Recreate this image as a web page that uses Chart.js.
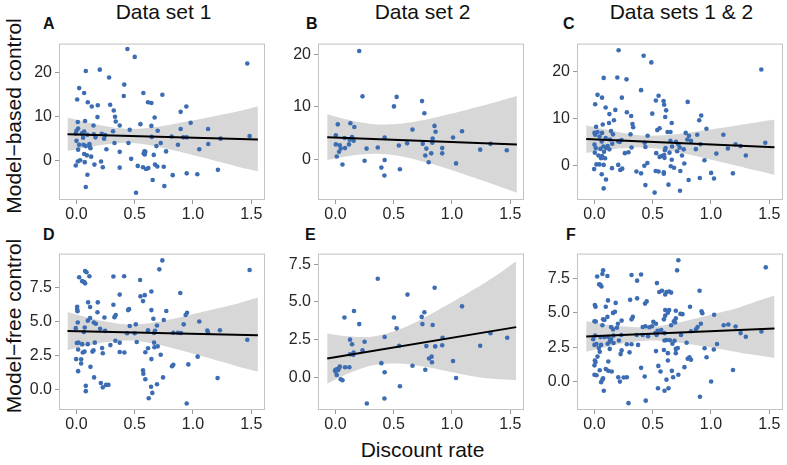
<!DOCTYPE html>
<html>
<head>
<meta charset="utf-8">
<script src="https://cdn.jsdelivr.net/npm/chart.js@4.4.1/dist/chart.umd.min.js"></script>
<style>
  body { margin: 0; background: #fff; }
  #wrap { position: relative; width: 787px; height: 465px; font-family: "Liberation Sans", Arial, sans-serif; color: #111; }
  canvas { position: absolute; }
  .txt { position: absolute; white-space: nowrap; line-height: 1; }
  .col { font-size: 21px; text-align: center; width: 209px; top: 1px; }
  .lab { font-size: 16px; font-weight: bold; }
  .ytitle { font-size: 21px; transform: translate(-50%, -50%) rotate(-90deg); }
</style>
</head>
<body>
<div id="wrap">
  <div class="txt col" style="left:59px">Data set 1</div>
  <div class="txt col" style="left:318px">Data set 2</div>
  <div class="txt col" style="left:577px">Data sets 1 &amp; 2</div>
  <div class="txt lab" style="left:43px;top:16px">A</div>
  <div class="txt lab" style="left:306px;top:16px">B</div>
  <div class="txt lab" style="left:563px;top:16px">C</div>
  <div class="txt lab" style="left:43px;top:227px">D</div>
  <div class="txt lab" style="left:305px;top:227px">E</div>
  <div class="txt lab" style="left:566px;top:227px">F</div>
  <div class="txt ytitle" style="left:13px;top:116px">Model−based control</div>
  <div class="txt ytitle" style="left:13px;top:326px">Model−free control</div>
  <div class="txt" style="left:318px;top:439px;width:209px;text-align:center;font-size:21px">Discount rate</div>
</div>
<script>
// discount rate on x, control measure on y
const xTicks = [0, 0.5, 1, 1.5];
const mbTicks = [0, 10, 20];
const mfTicks = [0, 2.5, 5, 7.5];

// A: data set 1, model-based
const aX = [0.437,0.5,1.466,0.08,0.2,0.28,0.023,0.41,0.066,0.406,0.574,0.737,0.006,0.097,0.614,0.643,0.131,0.183,0.289,0.32,0.943,0.894,0.18,0.331,0.671,0.337,0.011,0.074,0.146,0.371,0.549,0.643,0.98,0.014,0,0.066,0.314,0.457,0.697,0.894,1.129,-0.006,0.046,0.094,0.149,0.217,0.246,0.057,0.163,0.237,0.646,0.817,0.917,0.946,1.237,1.486,0,0.023,0.06,0.111,0.114,0.12,0.08,0.326,0.446,0.723,0.871,1.131,0.686,0.014,0.257,0.371,0.769,1.054,0.583,0.577,0.591,0.586,0.663,0.066,0.089,0.126,0.469,0.031,0.011,0.071,0.211,-0.006,0.154,0.226,0.371,0.526,0.571,0.597,0.617,0.674,0.694,0.749,1.214,0.094,0.826,0.946,1.037,0.654,0.754,0.08,0.511];
const aY = [25.4,23.6,22.1,20.4,20.7,18.9,16.5,17.3,15.4,14.7,15.4,15.0,13.9,13.3,13.3,13.1,12.3,12.6,12.7,11.4,12.3,11.1,9.9,10.0,9.8,8.9,8.8,9.0,8.0,8.0,8.3,7.9,8.6,7.3,6.8,6.6,6.7,7.0,6.8,7.2,7.2,6.2,6.2,5.9,6.0,6.1,5.8,5.2,5.3,5.0,5.4,5.5,5.3,5.3,5.0,5.6,4.5,3.6,3.6,3.8,3.2,2.8,3.3,4.0,4.0,4.0,3.6,3.8,3.3,2.5,2.6,2.0,2.1,2.6,2.1,1.6,2.0,1.4,1.3,1.5,1.2,0.9,0.4,0.1,-0.2,-0.35,-0.2,-1.1,-0.9,-1.5,-1.6,-1.2,-1.5,-1.9,-1.7,-0.9,-1.35,-1.4,-2.1,-3.2,-3.3,-2.9,-3.1,-4.4,-5.8,-6.0,-7.3];
const aBandX = [-0.077,0.1,0.25,0.45,0.65,0.85,1.05,1.25,1.4,1.557];
const aLow = [2.2,3.07,3.69,4.0,3.4,2.25,0.94,-0.44,-1.48,-2.4];
const aHigh = [9.8,8.67,7.83,7.22,7.54,8.39,9.4,10.5,11.32,12.4];
const aFitX = [-0.077,1.557];
const aFitY = [6.0,4.8];

// B: data set 2, model-based
const bX = [0.204,0.232,0.525,0.743,0.502,0.763,0.02,0.128,0.162,0.85,0.859,1.086,0.661,0.003,0.079,0.142,0.122,0.156,0.422,0.834,1.009,0.003,0.037,0.116,0.615,0.749,0.831,1.33,0.045,0.082,0.267,0.363,0.544,0.78,0.916,1.242,1.47,0.031,0.822,0.916,0.011,0.771,0.06,0.25,0.422,0.8,1.035,0.394,0.553,0.42];
const bY = [20.6,12.0,11.9,11.1,10.1,8.8,6.7,6.9,6.2,6.4,5.3,5.4,5.7,4.6,4.1,4.3,3.8,3.6,4.2,4.0,4.2,2.9,2.75,2.9,3.1,3.0,3.2,3.0,2.1,2.2,2.1,2.3,2.7,2.1,2.2,1.9,1.8,1.5,1.2,1.2,0.6,0.8,-0.9,-0.2,-0.05,-0.5,-0.7,-1.5,-1.8,-3.0];
const bBandX = [-0.071,0.1,0.25,0.4,0.6,0.8,1.0,1.2,1.4,1.557];
const bLow = [-0.08,0.65,1.04,1.07,0.47,-0.65,-2.01,-3.49,-5.02,-6.25];
const bHigh = [8.62,7.61,6.96,6.67,6.95,7.73,8.75,9.89,11.08,12.05];
const bFitX = [-0.071,1.557];
const bFitY = [4.27,2.9];

// C: both data sets, model-based
const cX = [0.207,0.422,0.488,1.432,0.196,0.079,0.275,0.4,0.026,0.065,0.235,0.55,0.527,0.593,0.598,0.8,0.006,0.096,0.179,0.278,0.496,0.128,0.315,0.615,0.607,0.916,0.899,0.167,0.663,0.125,0.071,0.014,0.326,0.332,0.539,0.559,0.961,0.026,0,0.065,0.142,0.627,0.652,0.783,0.006,0.159,0.309,0.456,0.811,1.106,0.882,0.043,0.096,0.133,0.232,0.062,0.204,0.431,0.797,0.828,0.91,1.211,1.466,0,0.153,0.218,0.652,0.7,0.72,0.077,0.113,0.318,0.437,0.666,0.731,1.253,0.011,0.102,0.051,0.128,0.61,0.87,1.145,0.604,0.709,0.766,1.046,0.003,0.082,0.261,0.292,0.53,0.644,1.299,0.034,0.065,0.057,0.091,0.559,0.578,0.598,0.751,0.944,0.601,0.663,0.017,0.043,0.079,0.204,0.454,0.771,-0.003,0.15,0.238,0.428,0.655,0.683,0.221,0.525,0.55,0.595,0.595,0.36,0.4,0.737,0.062,1.001,1.188,0.099,0.808,0.904,1.026,0.437,0.635,0.079,0.734,0.516];
const cY = [24.6,23.4,22.0,20.5,18.8,18.7,18.4,16.1,15.1,14.5,14.5,14.9,13.9,13.8,13.0,13.6,13.1,12.4,11.9,11.4,11.1,11.0,10.6,11.8,10.4,10.7,9.7,9.7,9.1,9.1,8.8,8.3,8.9,8.2,7.6,8.0,7.9,7.2,7.0,7.0,7.4,7.2,7.2,7.0,6.6,6.7,6.7,6.4,6.4,6.6,6.6,6.25,5.9,5.6,5.5,5.2,5.2,4.9,5.6,5.3,4.6,4.6,4.9,4.5,4.7,5.1,5.3,5.1,4.6,4.1,4.2,3.9,4.0,4.1,3.9,4.2,3.8,3.8,3.6,3.5,3.8,3.55,3.7,3.3,3.1,3.5,2.6,2.8,3.0,2.7,2.9,2.7,2.8,2.2,2.2,2.1,1.6,1.6,1.9,2.1,2.3,2.2,1.2,1.7,1.3,0.3,0.3,0.2,0.2,0.6,0.5,-0.7,-0.5,-0.6,0,-0.1,-0.4,-0.9,-1.1,-1.2,-1.4,-1.7,-1.2,-1.6,-1.1,-1.8,-1.5,-1.6,-2.9,-3.0,-2.6,-2.7,-4.1,-4.0,-4.8,-5.3,-5.7];
const cBandX = [-0.071,0.1,0.25,0.44,0.65,0.85,1.05,1.25,1.4,1.545];
const cLow = [2.75,3.33,3.73,3.85,3.22,2.2,1.05,-0.14,-1.06,-1.95];
const cHigh = [8.65,7.71,6.99,6.45,6.62,7.22,7.93,8.7,9.28,9.85];
const cFitX = [-0.071,1.545];
const cFitY = [5.7,3.95];

// D: data set 1, model-free
const dX = [0.074,0.086,0.023,0.111,0.049,0.066,0.074,0.317,0.409,0.546,0.737,0.711,1.486,0.891,0.643,0.371,0.586,0.549,0.571,0.1,0.183,0.317,0.117,0.006,0.006,0.009,0.643,0.771,0.451,0.443,0.18,0.949,0.937,0.337,0.326,0.24,0.117,0.66,0.749,1.054,0.011,0.097,0.149,0.166,0.509,0.92,-0.006,0.071,0.203,0.457,0.691,0.614,0.674,1.231,1.123,1.129,0.063,0.246,0.434,0.5,0.666,0.831,0.871,0.897,0.517,0.334,0.371,0.003,0.017,0.049,0.097,0.157,0.291,0.666,0.697,0.614,0.669,1.466,0.014,0.054,0.069,0.137,0.146,0.22,0.226,0.371,0.411,0.591,0.723,-0.003,0.04,0.04,0.643,0.12,0.014,0.96,0.82,0.831,0.571,0.574,1.04,0.151,0.591,0.743,1.211,0.209,0.08,0.254,0.274,0.226,0.691,0.64,0.08,0.651,0.62,0.946];
const dY = [8.71,8.62,8.25,8.32,7.96,7.89,7.8,8.3,8.32,8.05,9.49,8.83,8.78,7.09,7.2,6.97,6.93,6.84,6.49,6.4,6.4,6.22,6.06,6.08,5.88,5.74,5.83,5.76,5.9,5.83,5.67,5.63,5.47,5.47,5.31,5.28,5.24,5.19,5.1,4.99,4.92,5.05,4.92,4.82,4.78,4.78,4.5,4.55,4.46,4.66,4.69,4.34,4.3,4.34,4.32,4.16,4.21,4.3,4.12,4.12,4.14,4.16,4.16,4.14,3.48,3.57,3.43,3.41,3.43,3.32,3.32,3.43,3.25,3.43,3.16,3.02,3.09,3.64,2.93,2.7,2.77,2.77,2.86,3.04,2.65,2.74,2.7,2.72,2.54,2.22,2.2,1.9,2.22,1.65,1.33,1.83,1.69,1.8,1.39,1.14,2.4,0.87,0.73,0.87,0.82,0.46,0.25,0.32,0.32,0.14,0.37,0.18,-0.14,-0.27,-0.66,-1.05];
const dBandX = [-0.077,0.1,0.25,0.45,0.65,0.85,1.05,1.25,1.4,1.557];
const dLow = [2.88,3.22,3.46,3.59,3.38,2.97,2.51,2.02,1.64,1.3];
const dHigh = [5.68,5.28,4.98,4.77,4.9,5.23,5.63,6.04,6.36,6.75];
const dFitX = [-0.077,1.557];
const dFitY = [4.28,3.98];

// E: data set 2, model-free
const eX = [0.363,0.851,0.618,1.086,0.159,0.763,0.077,0.502,0.74,0.204,0.746,0.834,0.525,1.474,1.33,0.919,0.422,0.125,0.25,0.142,0.547,0.78,0.856,0.916,1.242,0.232,0.156,0.153,0.125,0.825,0.803,1.009,0.828,0.394,0.661,0.082,0.119,0.037,0.031,0.009,-0.003,0.023,0,0.771,0.422,0.011,0.045,0.06,1.035,0.553,0.42,0.269];
const eY = [6.53,5.93,5.48,4.7,4.39,4.31,3.96,3.96,4.0,3.52,3.52,3.46,3.24,2.62,2.91,2.62,2.66,2.49,2.35,2.18,2.08,2.06,2.04,2.12,2.08,1.79,1.63,1.48,1.52,1.36,1.24,1.07,0.99,0.93,0.76,0.66,0.66,0.7,0.6,0.52,0.45,0.47,0.37,0.49,0.33,0.14,-0.14,-0.21,-0.06,-0.6,-1.42,-1.75];
const eBandX = [-0.071,0.1,0.25,0.35,0.55,0.75,0.95,1.15,1.35,1.551];
const eLow = [-0.42,0.21,0.64,0.83,0.9,0.7,0.41,0.1,-0.1,-0.2];
const eHigh = [2.9,2.71,2.66,2.73,3.18,3.9,4.75,5.65,6.6,7.7];
const eFitX = [-0.071,1.551];
const eFitY = [1.24,3.32];

// F: both data sets, model-free
const fX = [0.074,0.068,0.023,0.111,0.04,0.06,0.051,0.318,0.4,0.366,0.536,0.72,0.709,0.556,0.579,0.618,0.607,0.641,0.658,0.116,0.182,0.306,0.366,0.448,0.434,0.003,0.009,0.097,0.607,0.641,0.63,0.698,0.159,0.176,0.111,0.085,0.074,0,0.011,0.329,0.318,0.233,0.201,0.698,0.681,0.607,0.596,0.505,0.528,0.068,0.142,0.159,0.193,0.414,0.437,0.471,0.494,0.573,0.542,0.658,0.692,0.006,0.051,0.085,0.116,0.142,0.164,0.23,0.363,0.414,0.522,0.533,0.601,-0.011,0,0.017,0.057,0.136,0.131,0.113,0.164,0.21,0.278,0.318,0.374,0.46,0.601,0.618,0.647,0.669,0.687,0.698,0.715,0.037,0.045,0.131,0.233,0.224,0.301,0.528,0.596,0.63,0.698,0.026,0.003,0.009,0,0.119,0.63,0,0.017,0.045,0.097,0.119,0.148,0.4,0.548,0.567,0.664,0.675,0.068,0.057,0.074,0.204,0.218,0.25,0.278,0.431,0.618,0.72,0.08,0.545,0.601,0.635,0.292,0.44,1.47,0.902,0.82,0.919,0.926,0.738,0.755,1.027,0.913,0.885,0.871,0.828,0.743,1.109,1.149,1.211,1.254,1.299,1.433,0.791,1.052,0.945,1.024,0.962,0.8,0.815,0.828,0.772,1.189,1.001,0.905];
const fY = [8.09,7.82,7.64,7.68,7.07,6.91,7.03,7.75,7.79,7.34,7.16,8.83,8.09,6.51,6.6,6.51,6.33,6.55,6.47,5.9,5.72,5.94,6.05,5.83,5.67,5.56,5.44,5.44,5.2,5.2,5.01,5.15,4.99,5.08,4.7,4.47,4.52,4.38,4.36,4.7,4.52,4.43,4.2,4.59,4.38,4.79,4.52,4.34,4.2,4.09,3.97,3.79,3.91,3.97,4.02,3.95,4.02,3.75,3.68,4.09,4.29,3.34,3.23,3.23,3.25,3.07,3.34,3.38,3.38,3.38,3.52,3.38,3.52,3.07,2.66,2.73,2.66,3.0,2.89,2.75,2.8,2.98,2.71,2.71,2.66,3.29,2.98,3.02,3.0,2.75,2.96,2.37,2.44,2.44,2.17,2.37,2.26,1.99,2.12,2.21,2.29,2.06,2.06,1.81,1.53,1.42,1.17,1.45,1.53,0.49,0.45,0.81,0.9,0.77,0.72,0.99,1.13,0.72,0.77,0.31,0.13,-0.05,0.22,0.31,-0.01,0.29,0.31,0.36,0.13,0.49,-0.68,-0.5,-0.68,-0.5,-1.58,-1.4,8.31,6.6,5.44,5.1,4.97,4.92,4.9,4.86,4.2,3.97,3.79,3.66,3.38,4.09,4.15,4.0,3.52,3.25,3.64,2.82,2.73,2.42,2.33,1.76,1.65,1.76,1.58,1.04,0.83,0.0,-1.11];
const fBandX = [-0.071,0.1,0.25,0.44,0.65,0.85,1.05,1.25,1.4,1.545];
const fLow = [2.16,2.51,2.78,2.97,2.89,2.67,2.39,2.09,1.9,1.7];
const fHigh = [4.38,4.15,4.0,3.95,4.17,4.55,4.97,5.41,5.85,6.25];
const fFitX = [-0.071,1.545];
const fFitY = [3.27,3.86];

const boxW = 209, boxH = 168, axisW = 50, axisH = 28;
const wrap = document.getElementById('wrap');

Chart.defaults.font.family = '"Liberation Sans", Arial, sans-serif';

const boxPlugin = {
    id: 'box',
    afterDatasetsDraw(chart) {
        const a = chart.chartArea;
        const c = chart.ctx;
        c.save();
        c.strokeStyle = '#c2c2c2';
        c.lineWidth = 1;
        c.strokeRect(a.left + 0.5, a.top + 0.5, a.right - a.left - 1, a.bottom - a.top - 1);
        c.restore();
    }
};

function pts(xs, ys) {
    return xs.map((v, i) => ({ x: v, y: ys[i] }));
}

function panel(p) {
    const cv = document.createElement('canvas');
    cv.width = axisW + boxW + 1;
    cv.height = boxH + axisH + 1;
    cv.style.left = (p.left - axisW) + 'px';
    cv.style.top = (p.top - 1) + 'px';
    wrap.appendChild(cv);

    const tickGrid = { drawOnChartArea: false, drawTicks: true, tickLength: 4, color: '#9a9a9a' };
    // lower order is drawn on top: band at the back, then points, then the fit line
    new Chart(cv, {
        type: 'scatter',
        data: {
            datasets: [
                { type: 'line', data: pts(p.fitX, p.fitY), borderColor: '#000', borderWidth: 2, pointRadius: 0, fill: false, order: 0 },
                { type: 'line', data: pts(p.bandX, p.high), borderColor: 'rgba(0,0,0,0)', borderWidth: 0, pointRadius: 0, tension: 0.4, fill: false, order: 2 },
                { type: 'line', data: pts(p.bandX, p.low), borderColor: 'rgba(0,0,0,0)', borderWidth: 0, pointRadius: 0, tension: 0.4, fill: '-1', backgroundColor: '#d7d7d7', order: 2 },
                { data: pts(p.x, p.y), pointRadius: 2.3, backgroundColor: '#3c6db3', borderWidth: 0, order: 1 }
            ]
        },
        options: {
            responsive: false,
            animation: false,
            events: [],
            layout: { padding: { top: 1, right: 1, left: 0, bottom: 0 } },
            plugins: { legend: { display: false }, tooltip: { enabled: false } },
            scales: {
                x: {
                    type: 'linear', min: -0.15, max: 1.618,
                    afterBuildTicks: s => { s.ticks = xTicks.map(v => ({ value: v })); },
                    afterFit: s => { s.height = axisH; },
                    grid: tickGrid, border: { display: false },
                    ticks: { callback: v => v.toFixed(1), font: { size: 16 }, color: '#262626', padding: 1, maxRotation: 0, autoSkip: false }
                },
                y: {
                    type: 'linear', min: p.ymin, max: p.ymax,
                    afterBuildTicks: s => { s.ticks = p.yticks.map(v => ({ value: v })); },
                    afterFit: s => { s.width = axisW; },
                    grid: tickGrid, border: { display: false },
                    ticks: { callback: v => p.fmt(v), font: { size: 16 }, color: '#262626', padding: 3, autoSkip: false }
                }
            }
        },
        plugins: [boxPlugin]
    });
}

const intFmt = v => String(v);
const decFmt = v => v.toFixed(1);

panel({ left: 59, top: 32, x: aX, y: aY, bandX: aBandX, low: aLow, high: aHigh, fitX: aFitX, fitY: aFitY, ymin: -8.96, ymax: 26.63, yticks: mbTicks, fmt: intFmt });
panel({ left: 318, top: 32, x: bX, y: bY, bandX: bBandX, low: bLow, high: bHigh, fitX: bFitX, fitY: bFitY, ymin: -7.64, ymax: 22.0, yticks: mbTicks, fmt: intFmt });
panel({ left: 577, top: 32, x: cX, y: cY, bandX: cBandX, low: cLow, high: cHigh, fitX: cFitX, fitY: cFitY, ymin: -7.27, ymax: 26.0, yticks: mbTicks, fmt: intFmt });
panel({ left: 59, top: 242, x: dX, y: dY, bandX: dBandX, low: dLow, high: dHigh, fitX: dFitX, fitY: dFitY, ymin: -1.53, ymax: 9.99, yticks: mfTicks, fmt: decFmt });
panel({ left: 318, top: 242, x: eX, y: eY, bandX: eBandX, low: eLow, high: eHigh, fitX: eFitX, fitY: eFitY, ymin: -2.18, ymax: 8.2, yticks: mfTicks, fmt: decFmt });
panel({ left: 577, top: 242, x: fX, y: fY, bandX: fBandX, low: fLow, high: fHigh, fitX: fFitX, fitY: fFitY, ymin: -2.08, ymax: 9.31, yticks: mfTicks, fmt: decFmt });
</script>
</body>
</html>
